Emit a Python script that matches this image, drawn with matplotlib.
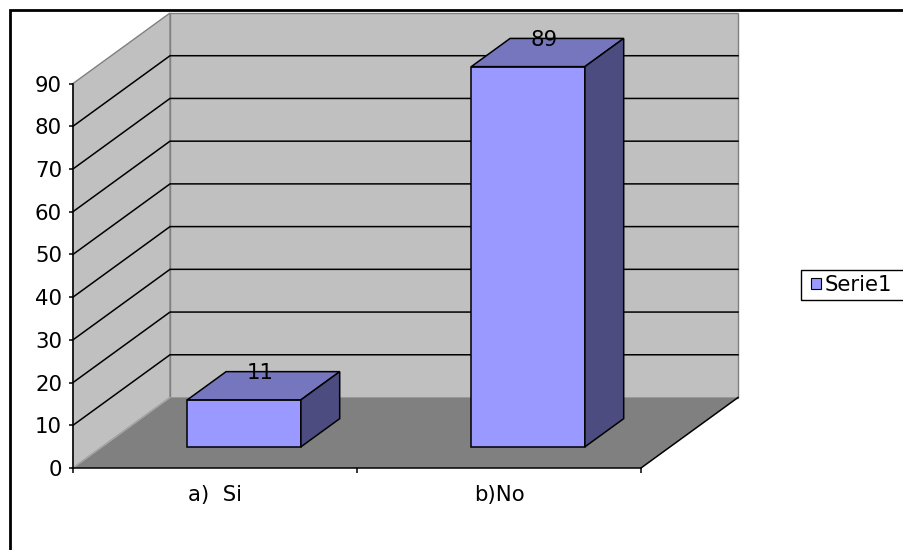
import matplotlib
matplotlib.use("Agg")
import matplotlib.pyplot as plt
from matplotlib.patches import Polygon, Rectangle, Patch

# ---- data ----
categories = ["a)  Si", "b)No"]
values = [11, 89]
series_name = "Serie1"
y_ticks = [0, 10, 20, 30, 40, 50, 60, 70, 80, 90]

# ---- style ----
FONT = ["DejaVu Sans"]
FS = 15.3
WALL = "#C0C0C0"
WALL_EDGE = "#808080"
FLOOR = "#808080"
BAR_FRONT = "#9999FF"
BAR_TOP = "#7676BF"
BAR_SIDE = "#4C4C80"

plt.rcParams["font.family"] = FONT

W, H = 904, 550
fig = plt.figure(figsize=(W / 100, H / 100), dpi=100)
fig.patch.set_facecolor("white")

# front plane of the plot (pixels from the top-left corner)
left_px, right_px, base_px, top_px = 73, 641, 468, 83.5
ax = fig.add_axes([left_px / W, 1 - base_px / H,
                   (right_px - left_px) / W, (base_px - top_px) / H])
n = len(categories)
ymax = y_ticks[-1]
ax.set_xlim(0, n)
ax.set_ylim(0, ymax)
ax.patch.set_visible(False)

# oblique depth offset of the 3-D box, converted to data units
depth_px = (97, 70.5)
DX = depth_px[0] / ((right_px - left_px) / n)
DY = depth_px[1] / ((base_px - top_px) / ymax)


def P(x, v, d):
    """Project (category position, value, depth 0..1) onto the front plane."""
    return (x + d * DX, v + d * DY)


def face(pts, fc, ec, lw, z):
    ax.add_patch(Polygon([P(*p) for p in pts], closed=True, facecolor=fc,
                         edgecolor=ec, linewidth=lw, zorder=z, clip_on=False,
                         joinstyle="miter"))


def line(pts, color, lw, z):
    xy = [P(*p) for p in pts]
    ax.plot([q[0] for q in xy], [q[1] for q in xy], color=color, lw=lw,
            zorder=z, clip_on=False, solid_joinstyle="miter")


# walls and floor
face([(0, 0, 1), (n, 0, 1), (n, ymax, 1), (0, ymax, 1)], WALL, WALL_EDGE, 1.0, 1)
face([(0, 0, 0), (0, 0, 1), (0, ymax, 1), (0, ymax, 0)], WALL, WALL_EDGE, 1.0, 1)
face([(0, 0, 0), (n, 0, 0), (n, 0, 1), (0, 0, 1)], FLOOR, "none", 0, 1.1)
line([(0, 0, 0), (0, 0, 1)], "#A8A8A8", 1.0, 1.2)
line([(n, 0, 0), (n, 0, 1)], "black", 1.1, 1.2)

# gridlines on the side and back walls
for v in y_ticks[1:-1]:
    line([(0, v, 0), (0, v, 1), (n, v, 1)], "black", 1.1, 1.5)

# 3-D columns
half_w = 0.2
d0, d1 = 0.3, 0.7
for i, v in enumerate(values):
    c = i + 0.5
    xl, xr = c - half_w, c + half_w
    face([(xl, 0, d0), (xr, 0, d0), (xr, v, d0), (xl, v, d0)], BAR_FRONT, "black", 1.1, 3)
    face([(xl, v, d0), (xr, v, d0), (xr, v, d1), (xl, v, d1)], BAR_TOP, "black", 1.1, 3)
    face([(xr, 0, d0), (xr, 0, d1), (xr, v, d1), (xr, v, d0)], BAR_SIDE, "black", 1.1, 3)
    ax.annotate(str(v), xy=P(c, v, 0.5), xytext=(-3, 13), textcoords="offset pixels",
                ha="center", va="center", fontsize=FS, zorder=10,
                annotation_clip=False)

# axes
for s in ("top", "right"):
    ax.spines[s].set_visible(False)
for s in ("left", "bottom"):
    ax.spines[s].set_color("black")
    ax.spines[s].set_linewidth(1.1)
    ax.spines[s].set_zorder(4)

ax.set_yticks(y_ticks)
ax.set_yticklabels([str(t) for t in y_ticks])
ax.tick_params(axis="y", direction="out", length=3.2, width=1.1, pad=4.7,
               labelsize=FS, colors="black")

ax.set_xticks(range(n + 1))
ax.set_xticklabels([])
ax.set_xticks([i + 0.5 for i in range(n)], minor=True)
ax.set_xticklabels(categories, minor=True)
ax.tick_params(axis="x", which="major", direction="out", length=3.6, width=1.1)
ax.tick_params(axis="x", which="minor", length=0, pad=12.5, labelsize=FS)

# legend (its box runs past the right edge of the chart area)
leg = fig.legend(handles=[Patch(facecolor=BAR_FRONT, edgecolor="black",
                                linewidth=0.8, label=series_name)],
                 loc="center left", bbox_to_anchor=(811 / W, 1 - 285 / H),
                 bbox_transform=fig.transFigure, borderaxespad=0, frameon=False,
                 fontsize=FS, handlelength=0.47, handleheight=0.47,
                 handletextpad=0.15, borderpad=0)
fig.add_artist(Rectangle((801 / W, 1 - 300 / H), 130 / W, 30 / H,
                         transform=fig.transFigure, facecolor="none",
                         edgecolor="black", linewidth=1.0, zorder=0.5))

# chart-area border
fig.add_artist(Rectangle((9.5 / W, -0.2), 1.5, 1 - 10 / H + 0.2,
                         transform=fig.transFigure, fill=False,
                         edgecolor="black", linewidth=2.0))

fig.savefig("out.png", dpi=100)
